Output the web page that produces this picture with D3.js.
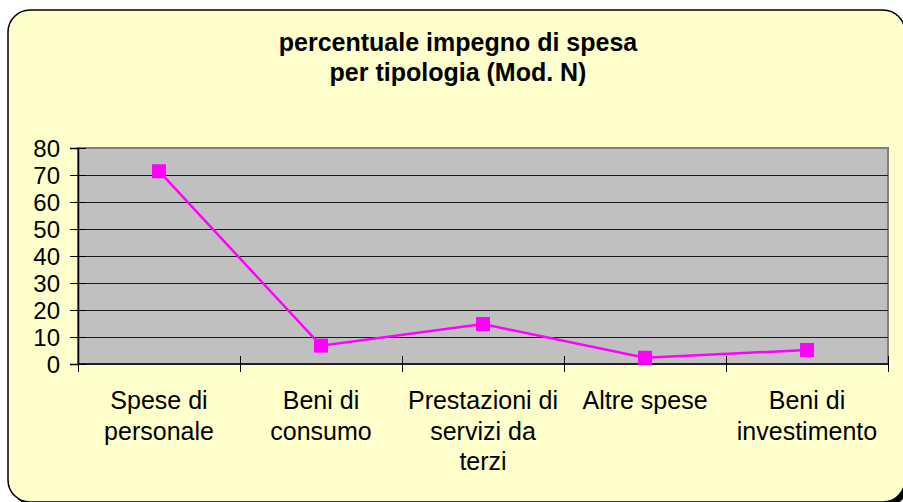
<!DOCTYPE html>
<html>
<head>
<meta charset="utf-8">
<script src="https://cdn.jsdelivr.net/npm/d3@7"></script>
<style>
  body { margin: 0; background: #fff; }
  svg text { font-family: Arial, "Liberation Sans", sans-serif; fill: #000; }
</style>
</head>
<body>
<div id="chart"></div>
<script>
var categories = [["Spese di", "personale"], ["Beni di", "consumo"], ["Prestazioni di", "servizi da", "terzi"], ["Altre spese"], ["Beni di", "investimento"]];
var values = [71.4, 6.8, 14.8, 2.3, 5.2];
var yTicks = [0, 10, 20, 30, 40, 50, 60, 70, 80];
var titleLines = ["percentuale impegno di spesa", "per tipologia (Mod. N)"];

var W = 903, H = 502;
var plot = {left: 78, top: 148, right: 888, bottom: 364};

var svg = d3.select("#chart").append("svg")
    .attr("width", W)
    .attr("height", H);

// chart frame with shadow
svg.append("rect")
    .attr("x", 12).attr("y", 14)
    .attr("width", 897).attr("height", 492)
    .attr("rx", 22).attr("ry", 22)
    .attr("fill", "#000");
svg.append("rect")
    .attr("x", 8).attr("y", 10)
    .attr("width", 897).attr("height", 492)
    .attr("rx", 22).attr("ry", 22)
    .attr("fill", "#ffffcc")
    .attr("stroke", "#000")
    .attr("stroke-width", 1.5);

// title
svg.append("g").selectAll("text")
    .data(titleLines)
    .join("text")
    .attr("x", 458)
    .attr("y", (d, i) => 51 + i * 30)
    .attr("text-anchor", "middle")
    .style("font-weight", "bold")
    .style("font-size", "25px")
    .text(d => d);

var x = d3.scaleBand()
    .domain(d3.range(categories.length))
    .range([plot.left, plot.right]);

var y = d3.scaleLinear()
    .domain([0, 80])
    .range([plot.bottom, plot.top]);

// plot area
svg.append("rect")
    .attr("x", plot.left).attr("y", plot.top)
    .attr("width", plot.right - plot.left)
    .attr("height", plot.bottom - plot.top)
    .attr("fill", "#c0c0c0")
    .attr("stroke", "#808080")
    .attr("stroke-width", 2);

// gridlines
svg.append("g").selectAll("line")
    .data(yTicks.filter(d => d > 0 && d < 80))
    .join("line")
    .attr("x1", plot.left).attr("x2", plot.right)
    .attr("y1", d => Math.round(y(d)) + 0.5)
    .attr("y2", d => Math.round(y(d)) + 0.5)
    .attr("stroke", "#1a1a1a")
    .attr("stroke-width", 1);

// y axis
var yAxis = svg.append("g")
    .attr("transform", "translate(" + plot.left + ",0)")
    .call(d3.axisLeft(y).tickValues(yTicks).tickSize(8).tickPadding(11));
yAxis.select(".domain").attr("stroke", "#000").attr("stroke-width", 1.5);
yAxis.selectAll(".tick line").attr("x2", 8).attr("x1", -8).attr("stroke", "#000");
yAxis.selectAll(".tick text")
    .style("font-size", "24px")
    .style("font-family", "Arial, 'Liberation Sans', sans-serif")
    .attr("fill", "#000")
    .attr("x", -18)
    .attr("dy", "0.36em");

// x axis
var xAxisG = svg.append("g");
xAxisG.append("line")
    .attr("x1", plot.left).attr("x2", plot.right)
    .attr("y1", plot.bottom).attr("y2", plot.bottom)
    .attr("stroke", "#000").attr("stroke-width", 1.5);
var bounds = d3.range(categories.length).map(i => x(i)).concat([plot.right]);
xAxisG.selectAll("line.tk")
    .data(bounds)
    .join("line")
    .attr("class", "tk")
    .attr("x1", d => Math.round(d) + 0.5).attr("x2", d => Math.round(d) + 0.5)
    .attr("y1", plot.bottom - 8).attr("y2", plot.bottom + 8)
    .attr("stroke", "#000");

xAxisG.selectAll("text.cat")
    .data(categories)
    .join("text")
    .attr("class", "cat")
    .attr("text-anchor", "middle")
    .style("font-size", "25px")
    .each(function(d, i) {
        var t = d3.select(this);
        d.forEach((line, j) => {
            t.append("tspan")
                .attr("x", x(i) + x.bandwidth() / 2)
                .attr("y", 409 + j * 30.5)
                .text(line);
        });
    });

// series
var line = d3.line()
    .x((d, i) => x(i) + x.bandwidth() / 2)
    .y(d => y(d));

svg.append("path")
    .datum(values)
    .attr("d", line)
    .attr("fill", "none")
    .attr("stroke", "#ff00ff")
    .attr("stroke-width", 2.5);

svg.append("g").selectAll("rect")
    .data(values)
    .join("rect")
    .attr("x", (d, i) => x(i) + x.bandwidth() / 2 - 7)
    .attr("y", d => y(d) - 7)
    .attr("width", 14)
    .attr("height", 14)
    .attr("fill", "#ff00ff");
</script>
</body>
</html>
